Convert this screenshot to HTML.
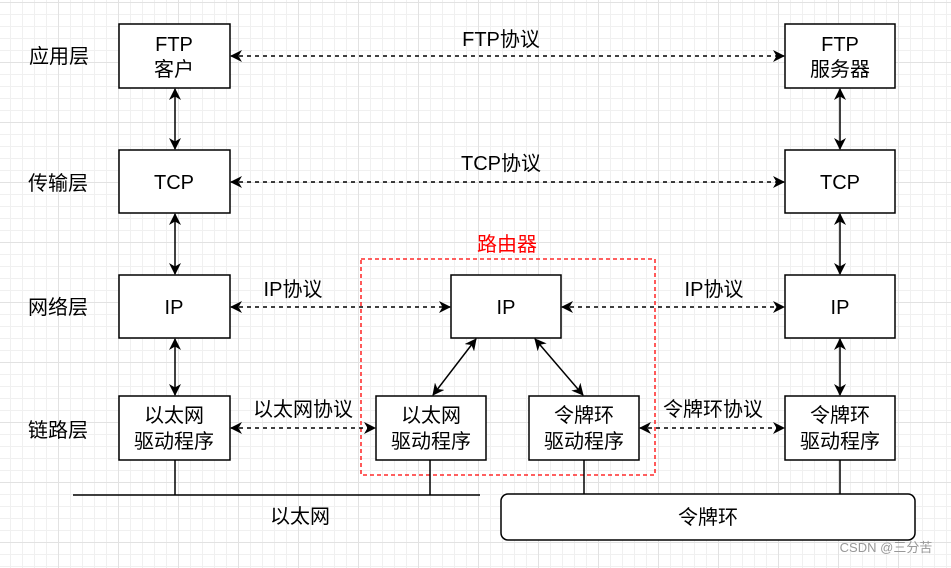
<!DOCTYPE html><html><head><meta charset="utf-8"><style>
body{margin:0;width:951px;height:563px;overflow:hidden;background:#fff;
background-image:linear-gradient(#e2e2e2 1px,transparent 1px),linear-gradient(90deg,#e2e2e2 1px,transparent 1px),linear-gradient(#f0f0f0 1px,transparent 1px),linear-gradient(90deg,#f0f0f0 1px,transparent 1px);
background-size:60px 60px,60px 60px,12px 12px,12px 12px;background-position:-2px 2px,-2px 2px,-2px 2px,-2px 2px;}
text{font-family:"Liberation Sans","Noto Sans CJK SC",sans-serif;font-size:20px;fill:#000}
</style></head><body>
<svg width="951" height="563" xmlns="http://www.w3.org/2000/svg">
<defs><marker id="a" markerWidth="12" markerHeight="12" refX="11" refY="6" orient="auto-start-reverse" markerUnits="userSpaceOnUse"><path d="M0,0 L12,6 L0,12 L3.5,6z" fill="#000"/></marker></defs>
<g fill="#fff" stroke="#000" stroke-width="1.5">
<rect x="119" y="24" width="111" height="64"/><rect x="119" y="150" width="111" height="63"/><rect x="119" y="275" width="111" height="63"/><rect x="119" y="396" width="111" height="64"/>
<rect x="785" y="24" width="110" height="64"/><rect x="785" y="150" width="110" height="63"/><rect x="785" y="275" width="110" height="63"/><rect x="785" y="396" width="110" height="64"/>
<rect x="451" y="275" width="110" height="63"/><rect x="376" y="396" width="110" height="64"/><rect x="529" y="396" width="110" height="64"/>
<rect x="501" y="494" width="414" height="46" rx="7"/>
</g>
<rect x="361" y="259" width="294" height="216" fill="none" stroke="#f00" stroke-width="1.3" stroke-dasharray="4,3"/>
<g stroke="#000" stroke-width="1.5" fill="none">
<line x1="73" y1="495" x2="480" y2="495"/>
<line x1="175" y1="460" x2="175" y2="495"/><line x1="430" y1="460" x2="430" y2="495"/><line x1="584" y1="460" x2="584" y2="494"/><line x1="840" y1="460" x2="840" y2="494"/>
<g marker-start="url(#a)" marker-end="url(#a)">
<line x1="175" y1="89" x2="175" y2="149"/><line x1="175" y1="214" x2="175" y2="274"/><line x1="175" y1="339" x2="175" y2="395"/>
<line x1="840" y1="89" x2="840" y2="149"/><line x1="840" y1="214" x2="840" y2="274"/><line x1="840" y1="339" x2="840" y2="395"/>
<line x1="476" y1="339" x2="433" y2="395"/><line x1="535" y1="339" x2="583" y2="395"/>
<g stroke-dasharray="4,4"><line x1="231" y1="56" x2="784" y2="56"/><line x1="231" y1="182" x2="784" y2="182"/><line x1="231" y1="307" x2="450" y2="307"/><line x1="562" y1="307" x2="784" y2="307"/><line x1="231" y1="428" x2="375" y2="428"/><line x1="640" y1="428" x2="784" y2="428"/></g>
</g></g>
<g text-anchor="middle">
<text x="174" y="51">FTP</text><text x="174" y="76">客户</text>
<text x="840" y="51">FTP</text><text x="840" y="76">服务器</text>
<text x="174" y="189">TCP</text><text x="840" y="189">TCP</text>
<text x="174" y="314">IP</text><text x="840" y="314">IP</text><text x="506" y="314">IP</text>
<text x="174" y="422">以太网</text><text x="174" y="448">驱动程序</text>
<text x="431" y="422">以太网</text><text x="431" y="448">驱动程序</text>
<text x="584" y="422">令牌环</text><text x="584" y="448">驱动程序</text>
<text x="840" y="422">令牌环</text><text x="840" y="448">驱动程序</text>
<text x="59" y="63">应用层</text><text x="58" y="190">传输层</text><text x="58" y="314">网络层</text><text x="58" y="437">链路层</text>
<text x="501" y="46">FTP协议</text><text x="501" y="170">TCP协议</text>
<text x="293" y="296">IP协议</text><text x="714" y="296">IP协议</text>
<text x="303" y="416">以太网协议</text><text x="713" y="416">令牌环协议</text>
<text x="300" y="523">以太网</text><text x="708" y="524">令牌环</text>
<text x="507" y="251" style="fill:#f00">路由器</text>
<text x="886" y="552" style="font-size:13px;fill:#999">CSDN @三分苦</text>
</g>
</svg></body></html>
